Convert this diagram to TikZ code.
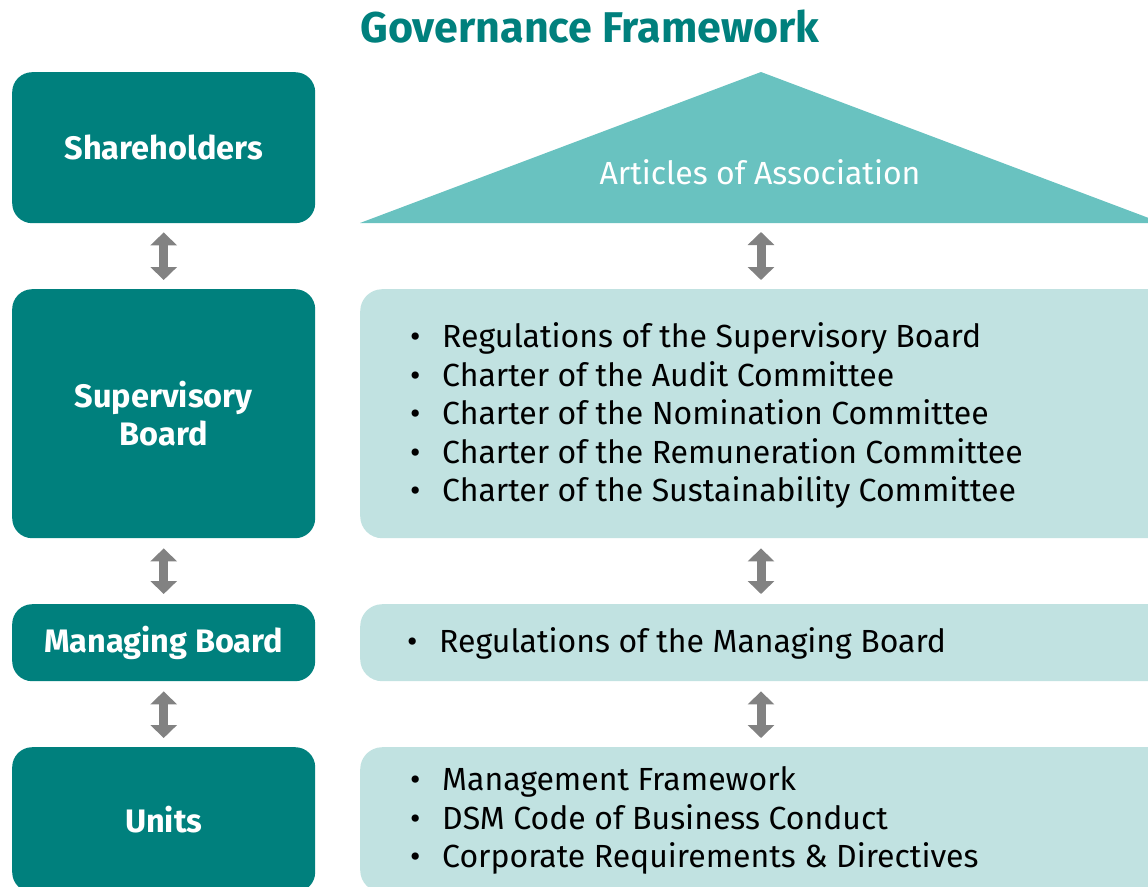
\documentclass[tikz,border=0pt]{standalone}
\usepackage{fontspec}
\setmainfont{Fira Sans}
\usetikzlibrary{arrows.meta}
\definecolor{darkteal}{HTML}{00807D}
\definecolor{midteal}{HTML}{69C2C0}
\definecolor{lightteal}{HTML}{C1E2E1}
\definecolor{arrowgray}{HTML}{828282}
\tikzset{
  leftbox/.style={rectangle, rounded corners=20pt, fill=darkteal, draw=none, inner sep=0pt,
    minimum width=303pt, text=white, align=center,
    font=\fontsize{32.5}{38.5}\selectfont\bfseries},
  rightbox/.style={rectangle, rounded corners=22pt, fill=lightteal, draw=none, inner sep=0pt,
    minimum width=830pt},
  listtext/.style={anchor=west, align=left, inner sep=0pt, text=black,
    font=\fontsize{32}{38.5}\selectfont},
  dblarrow/.style={draw=arrowgray, line width=9pt,
    {Triangle[width=26pt,length=13pt]}-{Triangle[width=26pt,length=13pt]}},
}
\newcommand{\bul}{\makebox[32pt][l]{•}}
\begin{document}
\begin{tikzpicture}[x=1pt,y=-1pt]
\useasboundingbox (0,0) rectangle (1148,886);
% title
\node[text=darkteal, font=\fontsize{43}{50}\selectfont\bfseries, inner sep=0pt] (title) at (590,27) {Governance Framework};
% left column
\node[leftbox, minimum height=151pt, anchor=north west] (sh) at (12,72) {Shareholders};
\node[leftbox, minimum height=249pt, anchor=north west] (sb) at (12,289) {Supervisory\\Board};
\node[leftbox, minimum height=77pt, anchor=north west] (mb) at (12,604) {Managing Board};
\node[leftbox, minimum height=145pt, anchor=north west] (un) at (12,747) {Units};
% triangle
\coordinate (apex) at (761,72);
\coordinate (bl) at (360,223);
\coordinate (br) at (1162,223);
\fill[midteal] (apex) -- (bl) -- (br) -- cycle;
\node[text=white, font=\fontsize{32}{38}\selectfont, inner sep=0pt] (aoa) at (760,172) {Articles of Association};
% right column
\node[rightbox, minimum height=249pt, anchor=north west] (sbr) at (360,289) {};
\node[rightbox, minimum height=77pt, anchor=north west] (mbr) at (360,604) {};
\node[rightbox, minimum height=145pt, anchor=north west] (unr) at (360,747) {};
\node[listtext] (sbt) at ([xshift=50pt,yshift=-2pt]sbr.west) {\bul Regulations of the Supervisory Board\\
\bul Charter of the Audit Committee\\
\bul Charter of the Nomination Committee\\
\bul Charter of the Remuneration Committee\\
\bul Charter of the Sustainability Committee};
\node[listtext] (mbt) at ([xshift=47pt,yshift=-1pt]mbr.west) {\bul Regulations of the Managing Board};
\node[listtext] (unt) at ([xshift=50pt,yshift=-1pt]unr.west) {\bul Management Framework\\
\bul DSM Code of Business Conduct\\
\bul Corporate Requirements \& Directives};
% arrows left
\draw[dblarrow] ([yshift=-9pt]sh.south) -- ([yshift=9pt]sb.north);
\draw[dblarrow] ([yshift=-10pt]sb.south) -- ([yshift=10pt]mb.north);
\draw[dblarrow] ([yshift=-10pt]mb.south) -- ([yshift=9pt]un.north);
% arrows right
\coordinate (tribase) at (761,223);
\draw[dblarrow] ([yshift=-9pt]tribase) -- ([yshift=9pt]sbr.north -| tribase);
\draw[dblarrow] ([yshift=-10pt]sbr.south -| tribase) -- ([yshift=10pt]mbr.north -| tribase);
\draw[dblarrow] ([yshift=-10pt]mbr.south -| tribase) -- ([yshift=9pt]unr.north -| tribase);
\end{tikzpicture}
\end{document}
